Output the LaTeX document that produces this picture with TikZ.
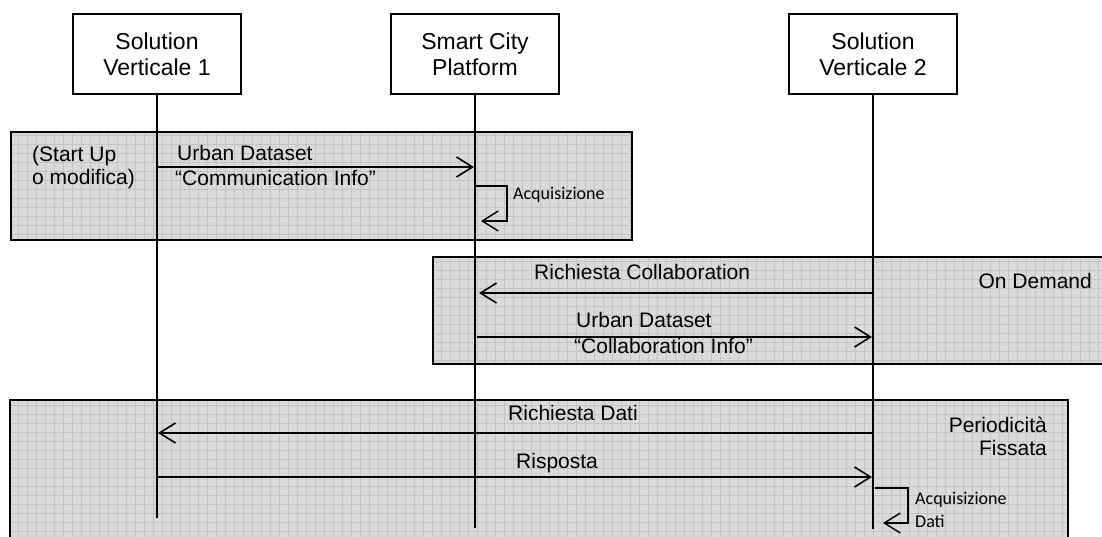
\documentclass[tikz,border=0pt]{standalone}
\usepackage{fontspec}
\setmainfont{Liberation Sans}
\newfontfamily\notefont{Carlito}
\usetikzlibrary{arrows.meta}
\definecolor{panelfill}{HTML}{DADADA}
\definecolor{panelgrid}{HTML}{C4C4C4}
\tikzset{
  actor/.style={draw, line width=2pt, fill=white, minimum width=168pt, minimum height=80pt,
    align=center, inner sep=0pt, font=\fontsize{23}{26}\selectfont},
  lifeline/.style={line width=2pt},
  msg/.style={line width=2pt, -{Straight Barb[length=16pt,width=20pt,line width=1.6pt]}},
  selfmsg/.style={line width=1.3pt, -{Straight Barb[length=16pt,width=20pt,line width=1.4pt]}},
  lbl/.style={inner sep=0pt, font=\fontsize{21}{23}\selectfont},
  note/.style={inner sep=0pt, align=left, font=\notefont\fontsize{18}{23}\selectfont},
}
% shaded phase panel with a fine mesh texture
\newcommand{\panel}[4]{%
  \begin{scope}
    \clip (#1,#2) rectangle (#3,#4);
    \fill[panelfill] (#1,#2) rectangle (#3,#4);
    \draw[panelgrid, line width=0.7pt, xstep=9pt, ystep=9pt] (#1,#2) grid (#3,#4);
  \end{scope}
  \draw[line width=2.5pt] (#1,#2) rectangle (#3,#4);}
\begin{document}
\begin{tikzpicture}[x=1pt,y=-1pt]
\useasboundingbox (0,0) rectangle (1102,536);

% phase panels
\panel{11}{132}{632}{240}
\panel{433}{257}{1112}{364}
\panel{10}{400}{1068}{546}

% participants
\node[actor] (sv1) at (157,54) {Solution\\Verticale 1};
\node[actor] (scp) at (475,54) {Smart City\\Platform};
\node[actor] (sv2) at (873,54) {Solution\\Verticale 2};

\coordinate (sv1end) at (157,518);
\coordinate (scpend) at (475,528);
\coordinate (sv2end) at (873,529);
\draw[lifeline] (sv1.south) -- (sv1end);
\draw[lifeline] (scp.south) -- (scpend);
\draw[lifeline] (sv2.south) -- (sv2end);

% start up: communication info
\coordinate (a1) at (157,167);
\coordinate (a2) at (474,167);
\draw[msg] (a1) -- (a2);
\node[lbl, anchor=west] (t1) at (177,153) {Urban Dataset};
\node[lbl, anchor=west] (t2) at (175,178) {“Communication Info”};
\node[lbl, anchor=west, align=left] (t0) at (32,168) {(Start Up\\o modifica)};

\coordinate (l1a) at (476,186);
\coordinate (l1b) at (507,186);
\coordinate (l1c) at (507,221);
\coordinate (l1d) at (481,221);
\draw[selfmsg] (l1a) -- (l1b) -- (l1c) -- (l1d);
\node[note, anchor=west] (n1) at (513,195) {Acquisizione};

% on demand: collaboration
\coordinate (b1) at (873,293);
\coordinate (b2) at (479,293);
\draw[msg] (b1) -- (b2);
\node[lbl, anchor=west] (t3) at (534,272) {Richiesta Collaboration};
\node[lbl, anchor=east] (t4) at (1092,281) {On Demand};
\coordinate (c1) at (477,337);
\coordinate (c2) at (872,337);
\draw[msg] (c1) -- (c2);
\node[lbl, anchor=west] (t5) at (576,320) {Urban Dataset};
\node[lbl, anchor=west] (t6) at (574,346) {“Collaboration Info”};

% periodic exchange
\coordinate (d1) at (873,433);
\coordinate (d2) at (158,433);
\draw[msg] (d1) -- (d2);
\node[lbl, anchor=west] (t7) at (508,413) {Richiesta Dati};
\node[lbl, anchor=east, align=right] (t8) at (1047,436) {Periodicità\\Fissata};
\coordinate (e1) at (157,477);
\coordinate (e2) at (872,477);
\draw[msg] (e1) -- (e2);
\node[lbl, anchor=west] (t9) at (516,463) {Risposta};

\coordinate (l2a) at (875,488);
\coordinate (l2b) at (908,488);
\coordinate (l2c) at (908,523);
\coordinate (l2d) at (883,523);
\draw[selfmsg] (l2a) -- (l2b) -- (l2c) -- (l2d);
\node[note, anchor=west] (n2) at (915,510) {Acquisizione\\Dati};
\end{tikzpicture}
\end{document}
